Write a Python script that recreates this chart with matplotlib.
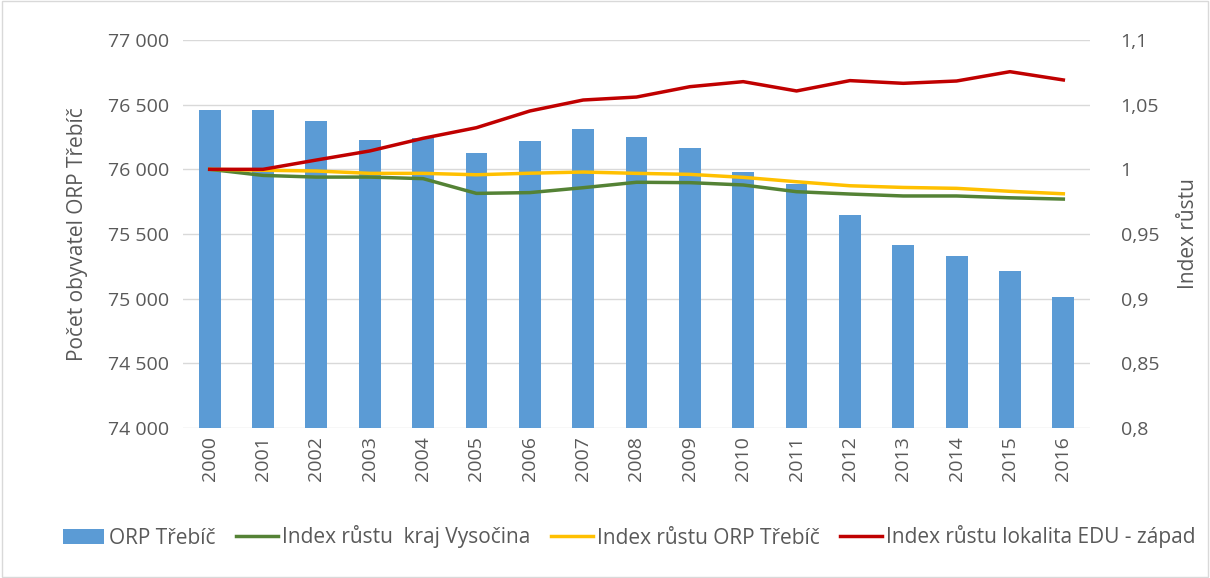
import numpy as np
import matplotlib
matplotlib.use('Agg')
from matplotlib import pyplot as plt
from matplotlib.patches import Rectangle

years = [str(y) for y in range(2000, 2017)]
orp_pop = [76460, 76460, 76370, 76230, 76240, 76130, 76220, 76310, 76250,
           76165, 75980, 75884, 75644, 75417, 75327, 75211, 75013]
idx_kraj = [1.0, 0.9953, 0.994, 0.994, 0.9928, 0.9814, 0.982, 0.9858, 0.990,
            0.9897, 0.9879, 0.9827, 0.9809, 0.9794, 0.9794, 0.978, 0.977]
idx_orp = [1.0, 0.9993, 0.9987, 0.9969, 0.9969, 0.9958, 0.997, 0.9979, 0.9969,
           0.9961, 0.9938, 0.9904, 0.9873, 0.986, 0.9853, 0.983, 0.9811]
idx_edu = [1.0, 1.0, 1.0072, 1.0142, 1.024, 1.0322, 1.0451, 1.0536, 1.0559,
           1.0639, 1.0678, 1.0606, 1.0686, 1.0665, 1.0683, 1.0755, 1.0691]

left_ticks = [74000, 74500, 75000, 75500, 76000, 76500, 77000]
right_ticks = [0.8, 0.85, 0.9, 0.95, 1.0, 1.05, 1.1]
right_labels = ['0,8', '0,85', '0,9', '0,95', '1', '1,05', '1,1']

plt.rcParams['font.family'] = ['Open Sans', 'DejaVu Sans']
txt = '#595959'

fig = plt.figure(figsize=(12.1, 5.78), dpi=100)
ax = fig.add_axes([183/1210, 1 - 428/578, (1090-183)/1210, (428-40)/578])
x = np.arange(len(years))

bars = ax.bar(x, orp_pop, width=0.41, color='#5b9bd5', zorder=2, label='ORP Třebíč')
ax.set_ylim(74000, 77000)
ax.set_xlim(-0.5, len(years) - 0.5)
ax.set_yticks(left_ticks)
ax.set_yticklabels([f'{v:,}'.replace(',', '\u00a0') for v in left_ticks])
ax.set_xticks(x)
ax.set_xticklabels(years, rotation=90)
ax.grid(axis='y', color='#d9d9d9', lw=1, zorder=0)
ax.set_axisbelow(True)
for s in ax.spines.values():
    s.set_visible(False)
ax.tick_params(axis='both', length=0, labelsize=14, colors=txt, pad=10)
ax.tick_params(axis='x', pad=6)
ax.set_ylabel('Počet obyvatel ORP Třebíč', fontsize=15, color=txt, labelpad=14)

ax2 = ax.twinx()
l1, = ax2.plot(x, idx_kraj, color='#548235', lw=2.5, label='Index růstu  kraj Vysočina')
l2, = ax2.plot(x, idx_orp, color='#ffc000', lw=2.5, label='Index růstu ORP Třebíč')
l3, = ax2.plot(x, idx_edu, color='#c00000', lw=2.5, label='Index růstu lokalita EDU - západ')
ax2.set_ylim(0.8, 1.1)
ax2.set_yticks(right_ticks)
ax2.set_yticklabels(right_labels)
for s in ax2.spines.values():
    s.set_visible(False)
ax2.tick_params(axis='y', length=0, labelsize=14, colors=txt, pad=22)
ax2.set_ylabel('Index růstu', fontsize=15, color=txt, labelpad=14)

fig.legend([bars, l1, l2, l3], [h.get_label() for h in [bars, l1, l2, l3]],
           loc='center', bbox_to_anchor=(0.52, 1 - 537/578), ncol=4, frameon=False,
           fontsize=15, labelcolor=txt, handlelength=2.0, handletextpad=0.2,
           columnspacing=1.0)

fig.patches.append(Rectangle((0.002, 0.002), 0.996, 0.996, transform=fig.transFigure,
                             fill=False, edgecolor='#d9d9d9', lw=1))
fig.savefig('out.png', dpi=100)
